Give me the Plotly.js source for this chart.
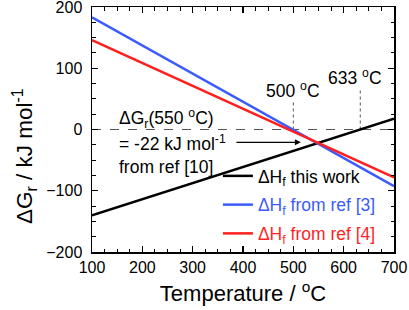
<!DOCTYPE html>
<html><head><meta charset="utf-8">
<script src="https://cdn.plot.ly/plotly-3.0.1.min.js"></script>
<style>html,body{margin:0;padding:0;background:#fff}#c{width:409px;height:310px}</style>
</head><body><div id="c"></div>
<script>
const temps = [100, 700];
const thisWork = [-140, 17.6];
const ref3 = [183, -92.5];
const ref4 = [146, -78];
const zeroX = [100, 700], zeroY = [0, 0];
const v500X = [500, 500], v500Y = [0, 48];
const v633X = [633, 633], v633Y = [0, 68];
const names = ['ΔH<sub>f</sub> this work', 'ΔH<sub>f</sub> from ref [3]', 'ΔH<sub>f</sub> from ref [4]'];
const colors = ['#000000', '#3b5bff', '#ff1f1f'];

const F = 'Liberation Sans, Arial, sans-serif';
const TF = 17.5;
const traces = [
  {x: zeroX, y: zeroY, mode:'lines', line:{color:'#555', width:1, dash:'dash'}, showlegend:false, hoverinfo:'skip'},
  {x: v500X, y: v500Y, mode:'lines', line:{color:'#555', width:1, dash:'dot'}, showlegend:false, hoverinfo:'skip'},
  {x: v633X, y: v633Y, mode:'lines', line:{color:'#555', width:1, dash:'dot'}, showlegend:false, hoverinfo:'skip'},
  {x: temps, y: thisWork, mode:'lines', name:`<span style="color:${colors[0]}">${names[0]}</span>`, line:{color:colors[0], width:2.5}, legendgroup:'a'},
  {x: temps, y: ref3, mode:'lines', name:`<span style="color:${colors[1]}">${names[1]}</span>`, line:{color:colors[1], width:2.5}, legendgroup:'b'},
  {x: temps, y: ref4, mode:'lines', name:`<span style="color:${colors[2]}">${names[2]}</span>`, line:{color:colors[2], width:2.5}, legendgroup:'c'}
];
const axisCommon = {
  showline:true, linecolor:'#000', linewidth:1.5, mirror:'ticks', ticks:'inside',
  ticklen:6, tickwidth:1.3, tickcolor:'#000', showgrid:false, zeroline:false,
  ticklabeloverflow:'allow',
  tickfont:{family:F, size:16, color:'#000'}
};
const layout = {
  width:409, height:310,
  margin:{l:92, r:15, t:7, b:58},
  paper_bgcolor:'#fff', plot_bgcolor:'#fff',
  font:{family:F, color:'#000'},
  xaxis: Object.assign({}, axisCommon, {
    range:[100,700], dtick:100, tick0:100,
    minor:{dtick:25, ticks:'inside', ticklen:3.5, tickwidth:1.1, tickcolor:'#000'},
    title:{text:'Temperature / <sup>o</sup>C', font:{family:F, size:22, color:'#000'}, standoff:11}
  }),
  yaxis: Object.assign({}, axisCommon, {
    range:[-200,200], dtick:100,
    minor:{dtick:25, ticks:'inside', ticklen:3.5, tickwidth:1.1, tickcolor:'#000'},
    ticklabelstandoff:5
  }),
  showlegend:true,
  legend:{x:0.417, y:0.0, xanchor:'left', yanchor:'bottom', bgcolor:'rgba(0,0,0,0)',
    font:{family:F, size:TF}, traceorder:'grouped', tracegroupgap:3, itemwidth:30},
  annotations:[
    {x:0, y:0.39, xref:'paper', yref:'paper', xshift:-85, textangle:-90, text:'ΔG<sub>r</sub> / kJ mol<sup>-1</sup>', showarrow:false, font:{family:F, size:22.5, color:'#000'}},
    {x:150, y:18, xref:'x', yref:'y', text:'ΔG<sub>r</sub>(550 <sup>o</sup>C)', showarrow:false, xanchor:'left', font:{family:F, size:TF, color:'#000'}},
    {x:150, y:-22, xref:'x', yref:'y', text:'= -22 kJ mol<sup>-1</sup>', showarrow:false, xanchor:'left', font:{family:F, size:TF, color:'#000'}},
    {x:150, y:-61, xref:'x', yref:'y', text:'from ref [10]', showarrow:false, xanchor:'left', font:{family:F, size:TF, color:'#000'}},
    {x:515, y:-21, ax:384, ay:-21, xref:'x', yref:'y', axref:'x', ayref:'y', text:'', showarrow:true, arrowhead:2, arrowsize:1, arrowwidth:1.2, arrowcolor:'#000'},
    {x:500, y:64, xref:'x', yref:'y', text:'500 <sup>o</sup>C', showarrow:false, font:{family:F, size:TF, color:'#000'}},
    {x:623, y:86, xref:'x', yref:'y', text:'633 <sup>o</sup>C', showarrow:false, font:{family:F, size:TF, color:'#000'}}
  ]
};
Plotly.newPlot('c', traces, layout, {staticPlot:true, displayModeBar:false});
</script></body></html>
